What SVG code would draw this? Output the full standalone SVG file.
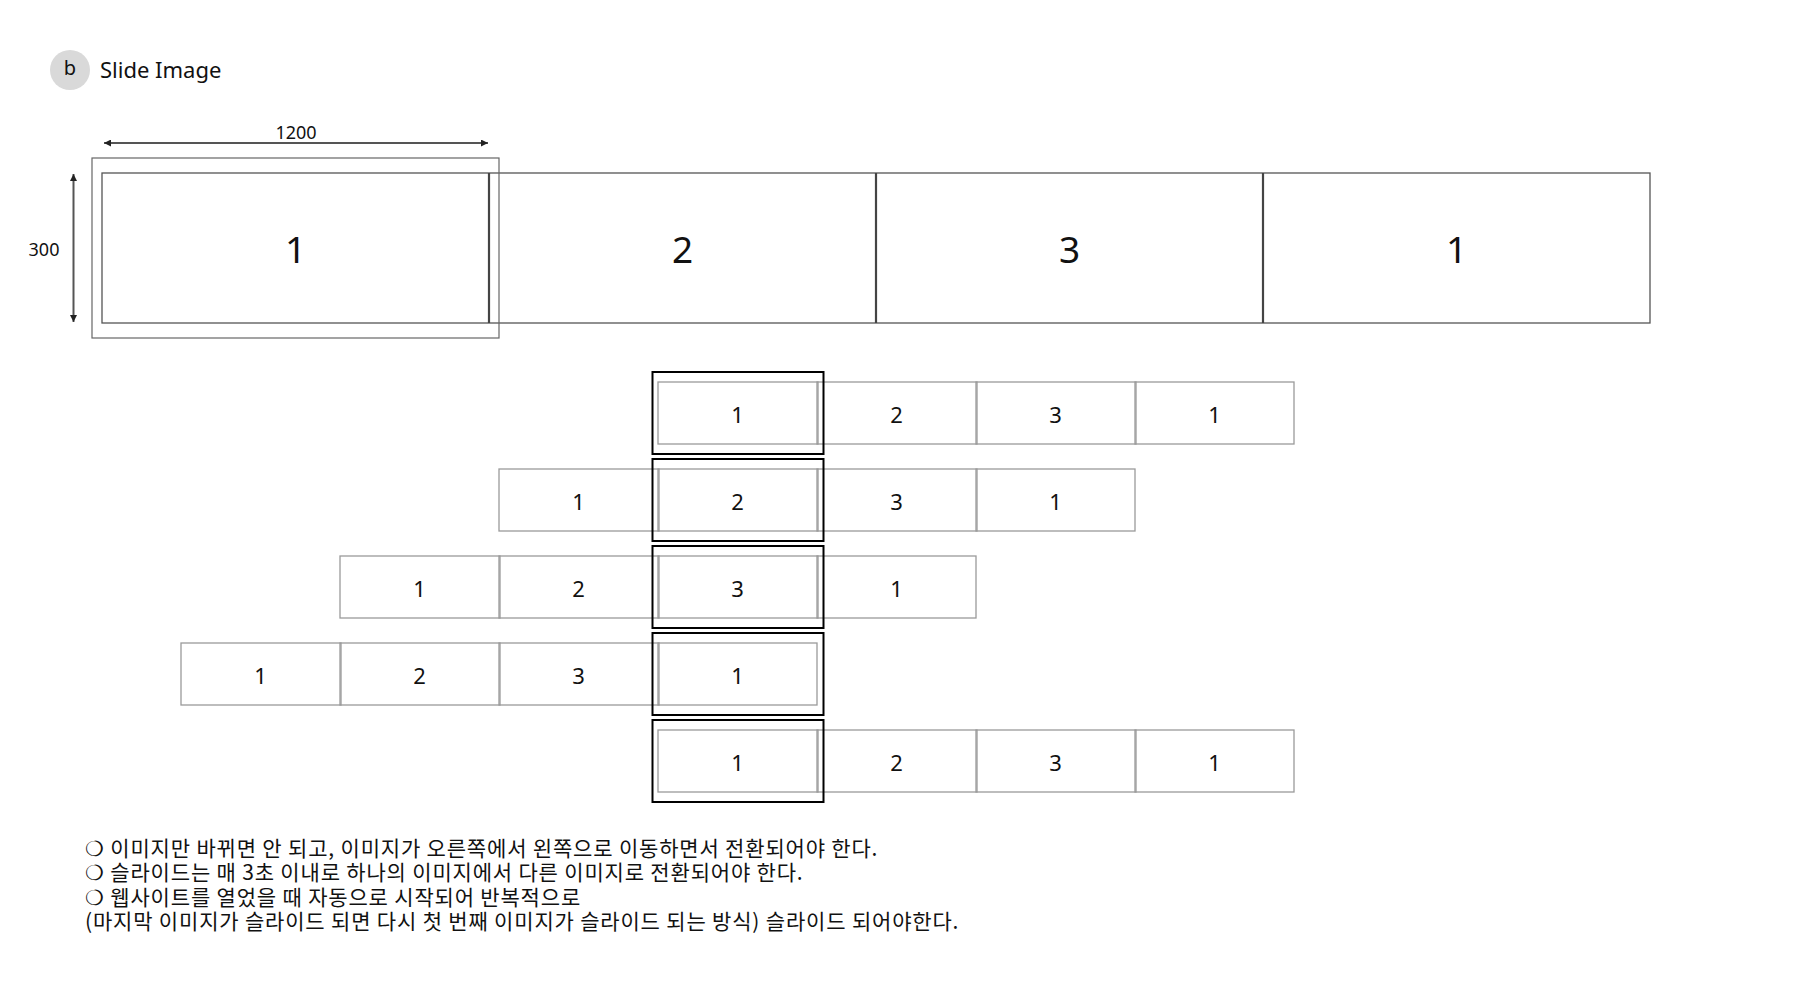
<svg xmlns="http://www.w3.org/2000/svg" width="1800" height="1000" viewBox="0 0 1800 1000">
<style>
  .t { font-family: "Noto Sans", "Noto Sans CJK KR", sans-serif; fill: #111; }
  .big { stroke: #555; stroke-width: 1.3; fill: none; }
  .bigdiv { stroke: #444; stroke-width: 2.2; }
  .cell { stroke: #9a9a9a; stroke-width: 1.3; fill: none; }
  .frame { stroke: #000; stroke-width: 2; fill: none; }
  .num { font-size: 22px; text-anchor: middle; }
  .bignum { font-size: 37px; text-anchor: middle; }
  .dim { stroke: #555; stroke-width: 2; fill: none; }
  .note { font-size: 21px; letter-spacing: 0.82px; font-family: "Noto Sans CJK KR", "Noto Sans", sans-serif; fill: #111; }
</style>
<defs>
  <marker id="ah" viewBox="0 0 10 10" refX="10" refY="5" markerWidth="3.5" markerHeight="3.5" orient="auto-start-reverse">
    <path d="M0,0 L10,5 L0,10 z" fill="#222"/>
  </marker>
</defs>
<rect width="1800" height="1000" fill="#fff"/>

<g id="header">
  <circle cx="70" cy="70" r="20" fill="#d9d9d9"/>
  <text class="t" x="70" y="75" font-size="20" text-anchor="middle">b</text>
  <text class="t" x="100" y="78" font-size="22">Slide Image</text>
</g>

<g id="connectors">
  <line class="dim" x1="104" y1="143" x2="488" y2="143" marker-start="url(#ah)" marker-end="url(#ah)"/>
  <line class="dim" x1="73.5" y1="174" x2="73.5" y2="322" marker-start="url(#ah)" marker-end="url(#ah)"/>
</g>

<g id="dim-labels">
  <text class="t" x="296" y="139" font-size="18" text-anchor="middle">1200</text>
  <text class="t" x="44" y="256" font-size="18" text-anchor="middle">300</text>
</g>

<g id="big-strip">
  <rect class="big" x="102" y="173" width="1548" height="150"/>
  <line class="bigdiv" x1="489" y1="173" x2="489" y2="323"/>
  <line class="bigdiv" x1="876" y1="173" x2="876" y2="323"/>
  <line class="bigdiv" x1="1263" y1="173" x2="1263" y2="323"/>
  <text class="t bignum" x="295.5" y="263">1</text>
  <text class="t bignum" x="682.5" y="263">2</text>
  <text class="t bignum" x="1069.5" y="263">3</text>
  <text class="t bignum" x="1456.5" y="263">1</text>
</g>
<g id="big-frame">
  <rect x="92" y="158" width="407" height="180" fill="none" stroke="#666" stroke-width="1.2"/>
</g>

<g id="row1">
  <rect class="cell" x="658" y="382" width="160" height="62"/>
  <rect class="cell" x="817" y="382" width="160" height="62"/>
  <rect class="cell" x="976" y="382" width="160" height="62"/>
  <rect class="cell" x="1135" y="382" width="159" height="62"/>
  <text class="t num" x="737.5" y="423">1</text>
  <text class="t num" x="896.5" y="423">2</text>
  <text class="t num" x="1055.5" y="423">3</text>
  <text class="t num" x="1214.5" y="423">1</text>
  <rect class="frame" x="652.5" y="372" width="171" height="82"/>
</g>

<g id="row2">
  <rect class="cell" x="499" y="469" width="160" height="62"/>
  <rect class="cell" x="658" y="469" width="160" height="62"/>
  <rect class="cell" x="817" y="469" width="160" height="62"/>
  <rect class="cell" x="976" y="469" width="159" height="62"/>
  <text class="t num" x="578.5" y="510">1</text>
  <text class="t num" x="737.5" y="510">2</text>
  <text class="t num" x="896.5" y="510">3</text>
  <text class="t num" x="1055.5" y="510">1</text>
  <rect class="frame" x="652.5" y="459" width="171" height="82"/>
</g>

<g id="row3">
  <rect class="cell" x="340" y="556" width="160" height="62"/>
  <rect class="cell" x="499" y="556" width="160" height="62"/>
  <rect class="cell" x="658" y="556" width="160" height="62"/>
  <rect class="cell" x="817" y="556" width="159" height="62"/>
  <text class="t num" x="419.5" y="597">1</text>
  <text class="t num" x="578.5" y="597">2</text>
  <text class="t num" x="737.5" y="597">3</text>
  <text class="t num" x="896.5" y="597">1</text>
  <rect class="frame" x="652.5" y="546" width="171" height="82"/>
</g>

<g id="row4">
  <rect class="cell" x="181" y="643" width="160" height="62"/>
  <rect class="cell" x="340" y="643" width="160" height="62"/>
  <rect class="cell" x="499" y="643" width="160" height="62"/>
  <rect class="cell" x="658" y="643" width="159" height="62"/>
  <text class="t num" x="260.5" y="684">1</text>
  <text class="t num" x="419.5" y="684">2</text>
  <text class="t num" x="578.5" y="684">3</text>
  <text class="t num" x="737.5" y="684">1</text>
  <rect class="frame" x="652.5" y="633" width="171" height="82"/>
</g>

<g id="row5">
  <rect class="cell" x="658" y="730" width="160" height="62"/>
  <rect class="cell" x="817" y="730" width="160" height="62"/>
  <rect class="cell" x="976" y="730" width="160" height="62"/>
  <rect class="cell" x="1135" y="730" width="159" height="62"/>
  <text class="t num" x="737.5" y="771">1</text>
  <text class="t num" x="896.5" y="771">2</text>
  <text class="t num" x="1055.5" y="771">3</text>
  <text class="t num" x="1214.5" y="771">1</text>
  <rect class="frame" x="652.5" y="720" width="171" height="82"/>
</g>

<g id="notes">
  <text class="note" x="85" y="855.5">❍ 이미지만 바뀌면 안 되고, 이미지가 오른쪽에서 왼쪽으로 이동하면서 전환되어야 한다.</text>
  <text class="note" x="85" y="880">❍ 슬라이드는 매 3초 이내로 하나의 이미지에서 다른 이미지로 전환되어야 한다.</text>
  <text class="note" x="85" y="904.5">❍ 웹사이트를 열었을 때 자동으로 시작되어 반복적으로</text>
  <text class="note" x="85" y="929">(마지막 이미지가 슬라이드 되면 다시 첫 번째 이미지가 슬라이드 되는 방식) 슬라이드 되어야한다.</text>
</g>
</svg>
